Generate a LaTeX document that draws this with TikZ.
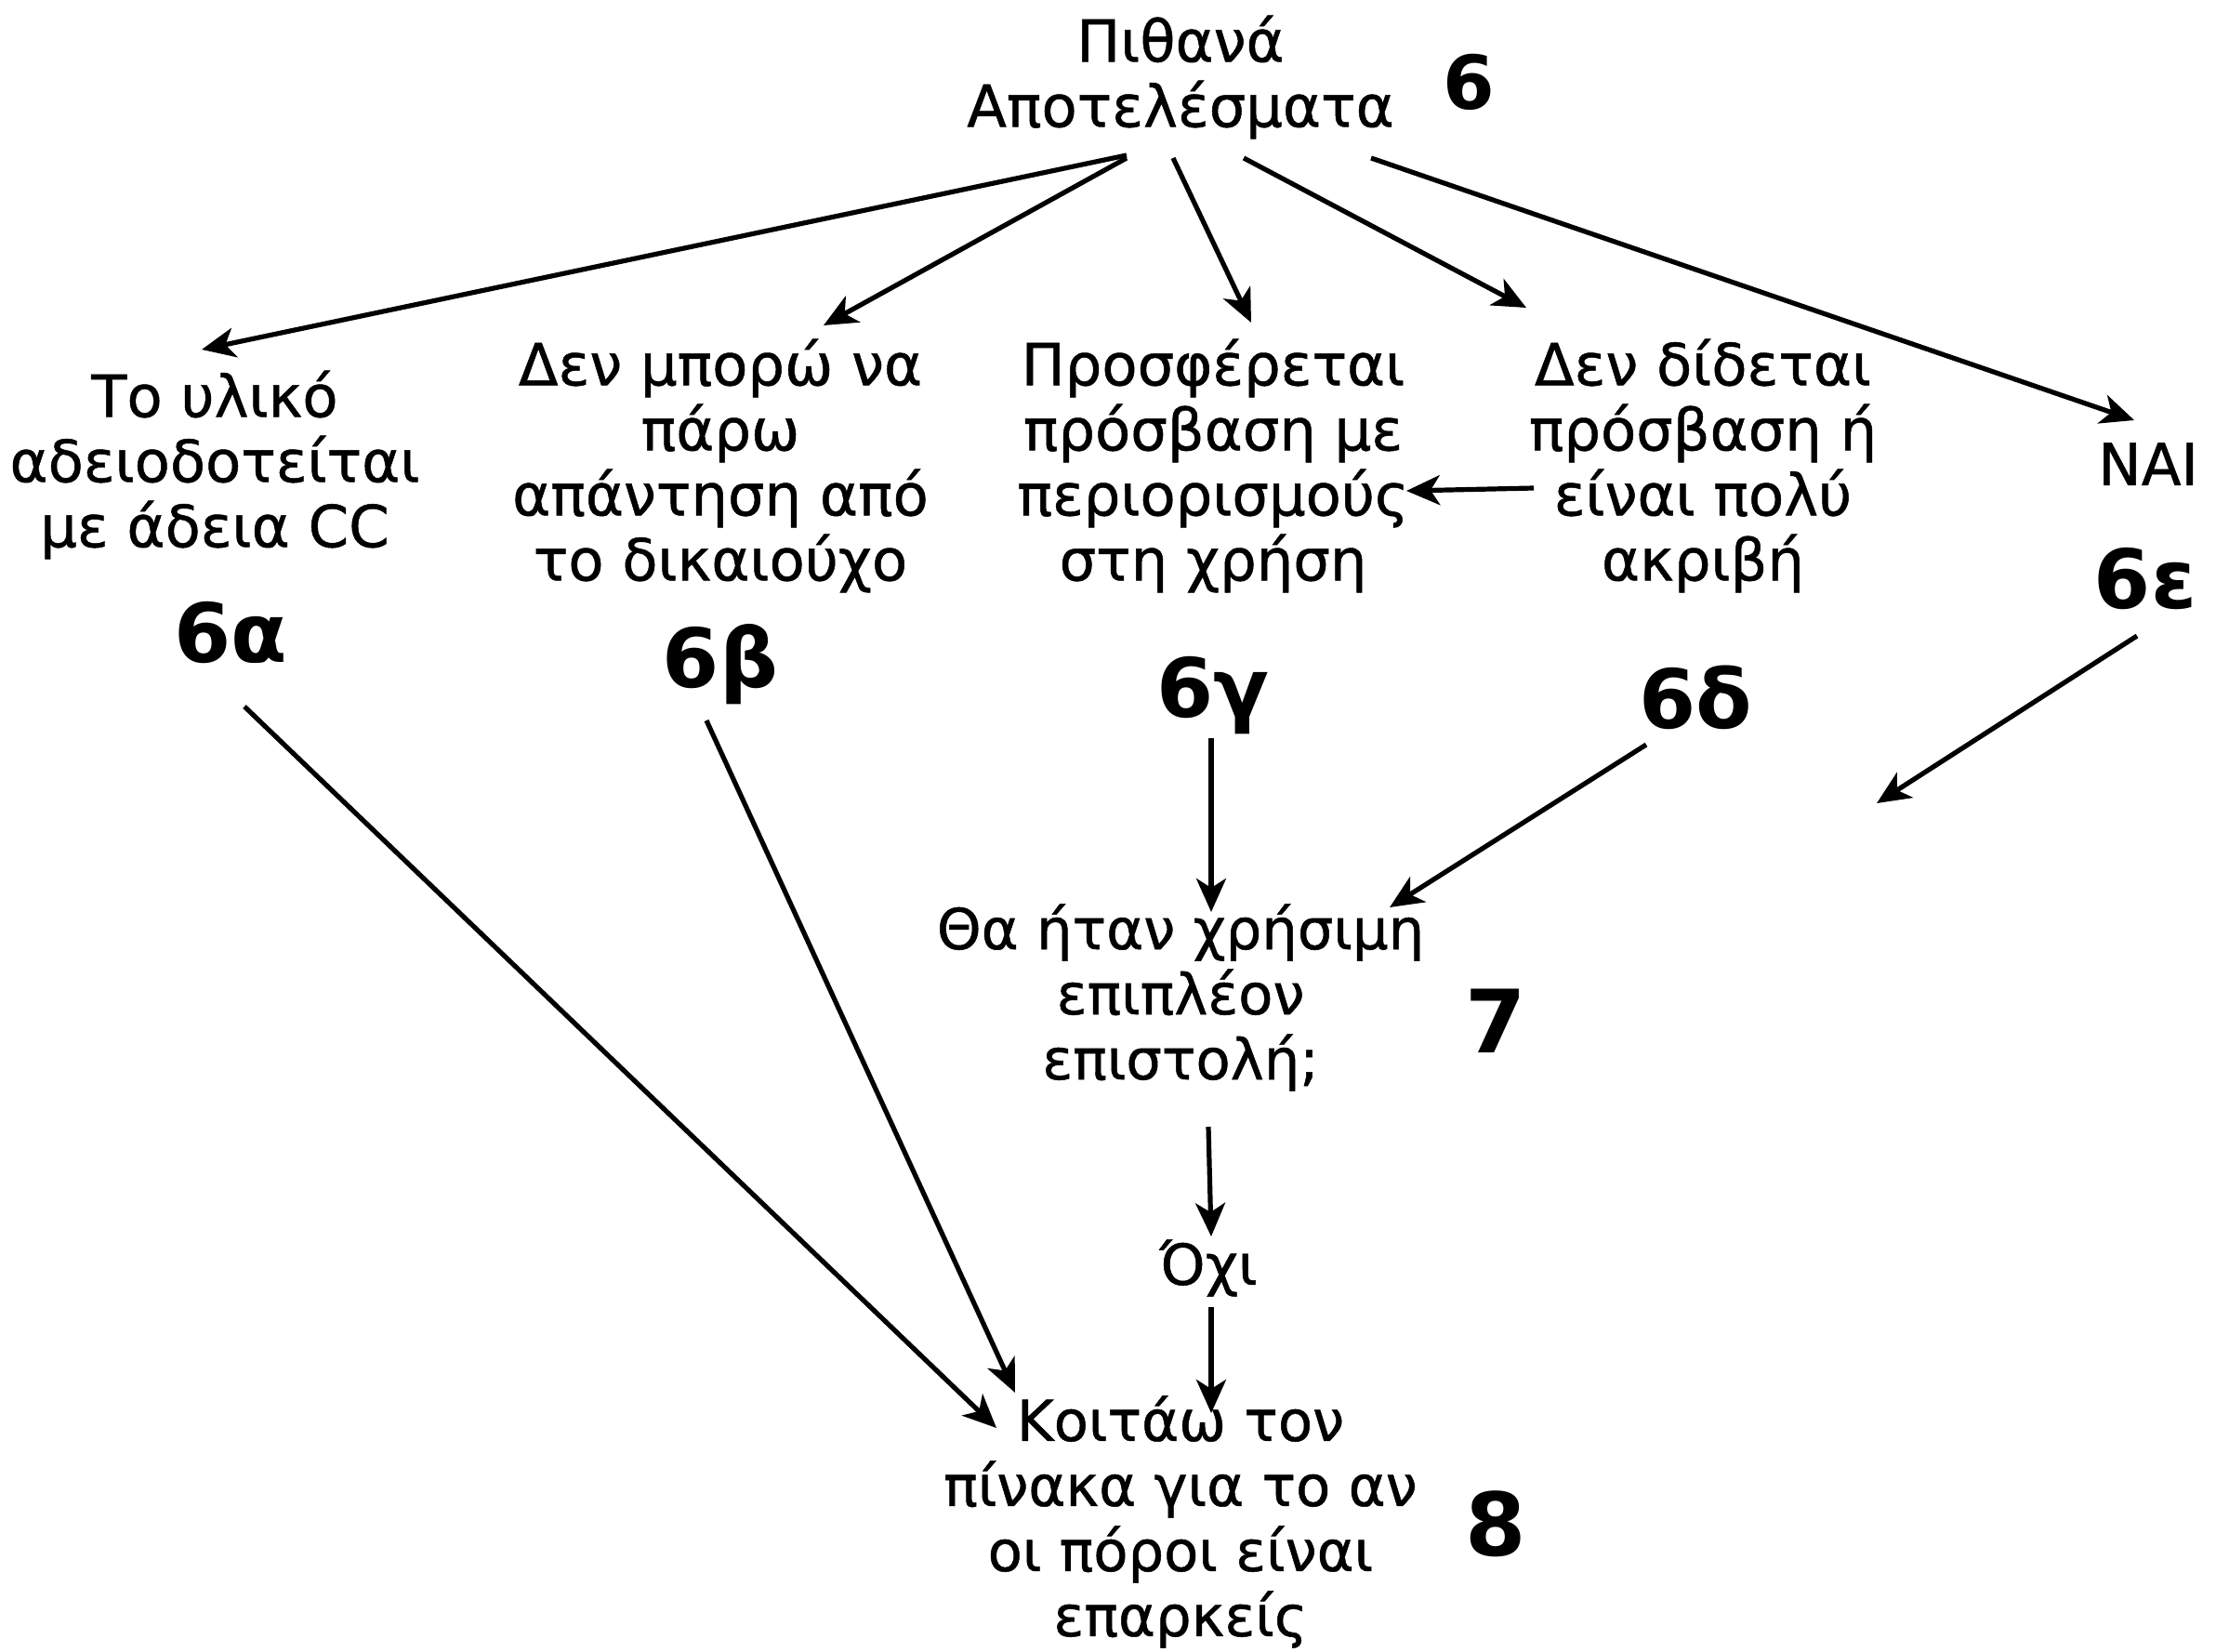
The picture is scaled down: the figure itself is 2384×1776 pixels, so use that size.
\documentclass[tikz,border=0pt]{standalone}
\usepackage{fontspec}
\setmainfont{DejaVu Sans}[FakeBold=0.8]
\newfontfamily\numfont{DejaVu Sans Bold}
\usetikzlibrary{arrows.meta}
\begin{document}
\begin{tikzpicture}[x=0.25pt,y=-0.25pt,
  arr/.style={line width=1.3pt,-{Stealth[length=9pt,width=8pt,inset=2.5pt]}},
  top/.style={inner sep=0pt,align=center,font=\fontsize{15.6}{17.5}\selectfont},
  low/.style={inner sep=0pt,align=center,font=\fontsize{15.2}{17.5}\selectfont},
  big/.style={inner sep=0pt,font=\numfont\fontsize{22}{22}\selectfont},
  mid/.style={inner sep=0pt,font=\numfont\fontsize{23.5}{23.5}\selectfont}]
\useasboundingbox (0,0) rectangle (2384,1776);
\node[top] (n6) at (1270,83) {Πιθανά\\Αποτελέσματα};
\node[inner sep=0pt,font=\numfont\fontsize{20}{20}\selectfont] (l6) at (1580,88) {6};
\node[top] (a) at (231,500) {Το υλικό\\αδειοδοτείται\\με άδεια CC};
\node[big] (la) at (248,680) {6α};
\node[top] (b) at (775,501) {Δεν μπορώ να\\πάρω\\απάντηση από\\το δικαιούχο};
\node[big] (lb) at (775,715) {6β};
\node[top] (c) at (1305,501) {Προσφέρεται\\πρόσβαση με\\περιορισμούς\\στη χρήση};
\node[big] (lc) at (1305,748) {6γ};
\node[top] (d) at (1832,501) {Δεν δίδεται\\πρόσβαση ή\\είναι πολύ\\ακριβή};
\node[big] (ld) at (1824,750) {6δ};
\node[top] (e) at (2311,499) {ΝΑΙ};
\node[big] (le) at (2308,623) {6ε};
\node[low] (n7) at (1270,1073) {Θα ήταν χρήσιμη\\επιπλέον\\επιστολή;};
\node[mid] (l7) at (1609,1098) {7};
\node[low] (ochi) at (1300,1364) {Όχι};
\node[low] (n8) at (1270,1637) {Κοιτάω τον\\πίνακα για το αν\\οι πόροι είναι\\επαρκείς};
\node[mid] (l8) at (1609,1639) {8};
\coordinate (free) at (2019,864);
\draw[arr] ([shift={(-58,84)}]n6.center) -- ([shift={(-14,-124)}]a.center);
\draw[arr] ([shift={(-58,87)}]n6.center) -- ([shift={(111,-151)}]b.center);
\draw[arr] ([shift={(-8,87)}]n6.center) -- ([shift={(41,-154)}]c.center);
\draw[arr] ([shift={(68,87)}]n6.center) -- ([shift={(-190,-170)}]d.center);
\draw[arr] ([shift={(205,87)}]n6.center) -- ([shift={(-15,-47)}]e.center);
\draw[arr] ([shift={(-182,24)}]d.center) -- ([shift={(208,27)}]c.center);
\draw[arr] ([shift={(15,80)}]la.center) -- ([shift={(-198,-101)}]n8.center);
\draw[arr] ([shift={(-15,60)}]lb.center) -- ([shift={(-178,-139)}]n8.center);
\draw[arr] ([shift={(-2,46)}]lc.center) -- ([shift={(33,-92)}]n7.center);
\draw[arr] ([shift={(-53,51)}]ld.center) -- ([shift={(225,-97)}]n7.center);
\draw[arr] ([shift={(-9,61)}]le.center) -- (free);
\draw[arr] ([shift={(30,139)}]n7.center) -- ([shift={(3,-34)}]ochi.center);
\draw[arr] ([shift={(3,42)}]ochi.center) -- ([shift={(33,-117)}]n8.center);
\end{tikzpicture}
\end{document}
